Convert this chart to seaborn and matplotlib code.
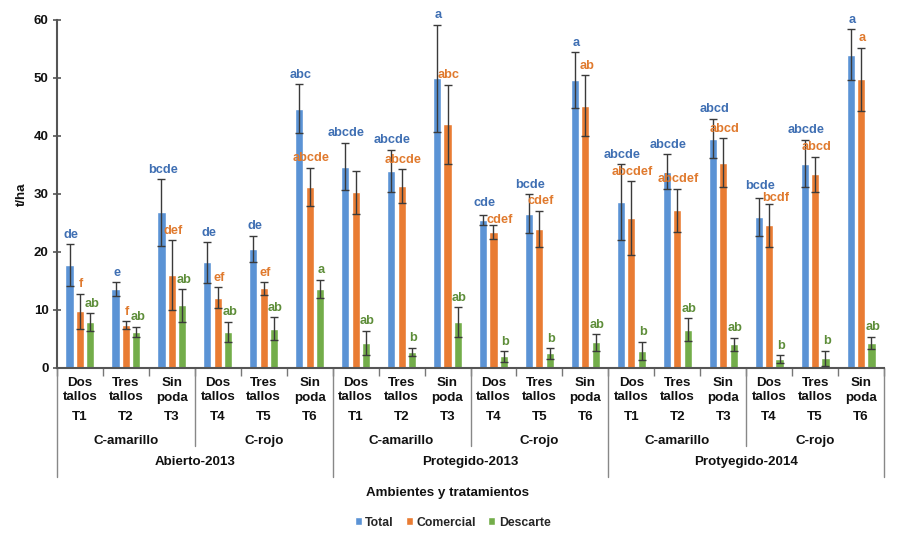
import numpy as np
import pandas as pd
import matplotlib
matplotlib.use("Agg")
import matplotlib.pyplot as plt
import matplotlib.transforms as mtransforms
from matplotlib.lines import Line2D
import seaborn as sns

# ---------------- data ----------------
ambientes = ["Abierto-2013", "Protegido-2013", "Protyegido-2014"]
cultivares = ["C-amarillo", "C-rojo"]
tratamientos = ["T1", "T2", "T3", "T4", "T5", "T6"]
manejo_l1 = ["Dos", "Tres", "Sin"]
manejo_l2 = ["tallos", "tallos", "poda"]
series = ["Total", "Comercial", "Descarte"]

total = [17.7, 13.6, 26.8, 18.2, 20.5, 44.7,
         34.7, 34.0, 49.9, 25.5, 26.6, 49.6,
         28.6, 33.8, 39.5, 26.0, 35.2, 54.0]
comercial = [9.8, 7.4, 16.0, 12.1, 13.7, 31.2,
             30.3, 31.3, 42.0, 23.4, 24.0, 45.2,
             25.8, 27.2, 35.4, 24.6, 33.4, 49.7]
descarte = [7.9, 6.2, 10.8, 6.2, 6.8, 13.6,
            4.3, 2.8, 7.9, 2.0, 2.5, 4.4,
            2.9, 6.6, 4.1, 1.5, 1.7, 4.3]

err_total = [3.6, 1.2, 5.7, 3.5, 2.3, 4.2,
             4.1, 3.6, 9.2, 0.8, 3.3, 4.8,
             6.5, 3.0, 3.4, 3.3, 4.1, 4.4]
err_comercial = [3.0, 0.7, 6.0, 1.8, 1.1, 3.3,
                 3.7, 2.9, 6.8, 1.2, 3.1, 5.2,
                 6.4, 3.7, 4.2, 3.7, 3.0, 5.5]
err_descarte = [1.5, 0.9, 2.8, 1.8, 1.9, 1.6,
                2.1, 0.7, 2.6, 0.9, 0.9, 1.4,
                1.6, 2.0, 1.1, 0.7, 1.3, 1.1]

let_total = ["de", "e", "bcde", "de", "de", "abc",
             "abcde", "abcde", "a", "cde", "bcde", "a",
             "abcde", "abcde", "abcd", "bcde", "abcde", "a"]
let_comercial = ["f", "f", "def", "ef", "ef", "abcde",
                 "", "abcde", "abc", "cdef", "cdef", "ab",
                 "abcdef", "abcdef", "abcd", "bcdf", "abcd", "a"]
let_descarte = ["ab", "ab", "ab", "ab", "ab", "a",
                "ab", "b", "ab", "b", "b", "ab",
                "b", "ab", "ab", "b", "b", "ab"]

bar_colors = ["#5B93D5", "#E97C33", "#73AD4A"]
txt_colors = ["#3F6FB3", "#E07A2E", "#5E8E3A"]

# ---------------- build table ----------------
cats = [f"{a}|{t}" for a in ambientes for t in tratamientos]
vals = {"Total": total, "Comercial": comercial, "Descarte": descarte}
errs = {"Total": err_total, "Comercial": err_comercial, "Descarte": err_descarte}
lets = {"Total": let_total, "Comercial": let_comercial, "Descarte": let_descarte}
rows = []
for s in series:
    for c, v in zip(cats, vals[s]):
        rows.append({"cat": c, "serie": s, "valor": v})
df = pd.DataFrame(rows)

sns.set_theme(style="white")
narrow = ["Liberation Sans Narrow", "Liberation Sans", "DejaVu Sans"]
plt.rcParams["font.family"] = ["Liberation Sans", "DejaVu Sans"]

W, H = 900, 549
fig = plt.figure(figsize=(9, 5.49), dpi=100)
ax = fig.add_axes([57 / W, 1 - 368 / H, (884 - 57) / W, (368 - 19.7) / H])

sns.barplot(data=df, x="cat", y="valor", hue="serie", order=cats,
            hue_order=series, palette=bar_colors, errorbar=None,
            width=0.68, gap=0.22, saturation=1, ax=ax)

# error bars and letters
tops = {s: [v + e for v, e in zip(vals[s], errs[s])] for s in series}
for i, s in enumerate(series):
    cont = ax.containers[i]
    for j, bar in enumerate(cont):
        xc = bar.get_x() + bar.get_width() / 2
        h = bar.get_height()
        e = errs[s][j]
        ax.errorbar(xc, h, yerr=e, fmt="none", ecolor="#3a3a3a",
                    elinewidth=1.0, capsize=2.6, capthick=1.0, zorder=5)
        if not lets[s][j]:
            continue
        dx, dy = 1.0, 2.5
        close = abs(tops["Total"][j] - tops["Comercial"][j]) < 2.0
        if close and s == "Total":
            dy = 4.5
        if close and s == "Comercial":
            dx, dy = 4.5, -0.5
        ax.annotate(lets[s][j], (xc, h + e), xytext=(dx, dy),
                    textcoords="offset points", ha="center", va="bottom",
                    fontsize=9.2, fontweight="bold", color=txt_colors[i],
                    zorder=6)

ax.set_ylim(0, 60)
ax.set_xlim(-0.5, len(cats) - 0.5)
ax.set_yticks(np.arange(0, 61, 10))
ax.set_yticklabels([str(v) for v in range(0, 61, 10)], fontsize=9.5,
                   fontweight="bold", color="#111111")
ax.tick_params(axis="y", direction="inout", length=6, width=1.2,
               color="#555555", pad=3, left=True)
ax.set_xticks(np.arange(-0.5, len(cats), 1.0))
ax.set_xticklabels([])
ax.tick_params(axis="x", direction="out", length=6, width=1.0,
               color="#777777", bottom=True)
ax.set_xlabel("")
ax.set_ylabel("")
for sp in ["top", "right"]:
    ax.spines[sp].set_visible(False)
ax.spines["left"].set_color("#555555")
ax.spines["left"].set_linewidth(1.5)
ax.spines["bottom"].set_color("#555555")
ax.spines["bottom"].set_linewidth(1.5)

# legend
handles, labels = ax.get_legend_handles_labels()
ax.get_legend().remove()
fig.legend(handles, labels, loc="center", bbox_to_anchor=(0.503, 1 - 522.5 / H),
           ncol=3, frameon=False, handlelength=0.55, handleheight=0.55,
           handletextpad=0.3, columnspacing=1.0,
           prop={"weight": "bold", "size": 8.8})

# hierarchical category axis
tr = mtransforms.blended_transform_factory(ax.transData, fig.transFigure)
def fy(p):
    return 1 - p / H

txt_kw = dict(transform=tr, ha="center", va="center", fontsize=9.6,
              fontweight="bold", family=narrow, color="#111111")
for k in range(len(cats)):
    ti = k % 6
    ax.text(k, fy(382.5), manejo_l1[ti % 3], **txt_kw)
    ax.text(k, fy(397.5), manejo_l2[ti % 3], **txt_kw)
    ax.text(k, fy(417), tratamientos[ti], **txt_kw)
for a in range(len(ambientes)):
    for c in range(len(cultivares)):
        ax.text(a * 6 + c * 3 + 1, fy(441), cultivares[c], **txt_kw)
    ax.text(a * 6 + 2.5, fy(462), ambientes[a], **txt_kw)

line_kw = dict(transform=tr, color="#888888", linewidth=1.0, clip_on=False)
for a in range(len(ambientes)):
    xm = a * 6 + 2.5
    ax.add_line(Line2D([xm, xm], [fy(368), fy(446)], **line_kw))
for b in range(len(ambientes) + 1):
    xb = b * 6 - 0.5
    ax.add_line(Line2D([xb, xb], [fy(368), fy(477)], **line_kw))

fig.text(0.5 - 0.003, fy(493), "Ambientes y tratamientos", ha="center",
         va="center", fontsize=9.6, fontweight="bold", family=narrow,
         color="#111111")
fig.text(22 / W, fy(194), "t/ha", ha="center", va="center", rotation=90,
         fontsize=9.5, fontweight="bold", color="#111111")

fig.savefig("out.png", dpi=100, facecolor="white")
